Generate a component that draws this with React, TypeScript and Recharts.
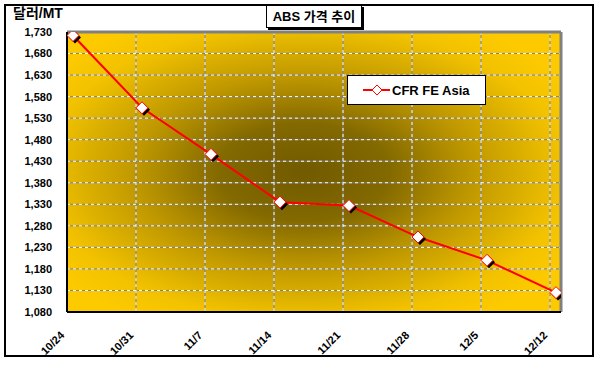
import { LineChart, Line, XAxis, YAxis, CartesianGrid, ReferenceLine } from "recharts"

const chartTitle = "ABS 가격 추이"
const unitLabel = "달러/MT"
const seriesName = "CFR FE Asia"

const weeks = ["10/24", "10/31", "11/7", "11/14", "11/21", "11/28", "12/5", "12/12"]
const cfrFeAsia = [1722, 1554, 1446, 1335, 1327, 1254, 1200, 1125]
const priceTicks = [1080, 1130, 1180, 1230, 1280, 1330, 1380, 1430, 1480, 1530, 1580, 1630, 1680, 1730]

// category lines sit a little left of each point, like the Excel original
const SHIFT = 0.087
const X_MAX = 7.072

const data = weeks.map((w, i) => ({ idx: i, week: w, price: cfrFeAsia[i] }))
const weekTicks = weeks.map((_, i) => i - SHIFT)

const FONT = "'Liberation Sans', Arial, 'Noto Sans CJK KR', sans-serif"

function DiamondDot(props: any) {
  const { cx, cy, index } = props
  if (cx == null || cy == null) return null
  const r = 6
  const pts = (dx: number, dy: number) =>
    `${cx + dx},${cy - r + dy} ${cx + r + dx},${cy + dy} ${cx + dx},${cy + r + dy} ${cx - r + dx},${cy + dy}`
  return (
    <g key={`dot-${index}`}>
      <polygon points={pts(2, 2)} fill="#000" />
      <polygon points={pts(0, 0)} fill="#fff" stroke="#ff0000" strokeWidth={1} />
    </g>
  )
}

function WeekTick(props: any) {
  const { x, y, payload } = props
  const label = weeks[Math.round(payload.value + SHIFT)]
  const ax = x - 2
  const ay = y + 16
  return (
    <text
      x={ax}
      y={ay}
      transform={`rotate(-45, ${ax}, ${ay})`}
      textAnchor="end"
      fontSize={11}
      fontWeight="bold"
      fontFamily={FONT}
      fill="#000"
    >
      {label}
    </text>
  )
}

export default function App() {
  return (
    <div style={{ position: "absolute", left: 0, top: 0, width: 600, height: 366, background: "#fff", fontFamily: FONT }}>
      <svg width={0} height={0} style={{ position: "absolute" }}>
        <defs>
          <radialGradient id="plotBg" cx="0.48" cy="0.5" r="0.62" fx="0.48" fy="0.5">
            <stop offset="0%" stopColor="#715a00" />
            <stop offset="28%" stopColor="#836900" />
            <stop offset="55%" stopColor="#bf9800" />
            <stop offset="85%" stopColor="#f2c200" />
            <stop offset="100%" stopColor="#fdca00" />
          </radialGradient>
        </defs>
      </svg>

      <div
        style={{
          position: "absolute",
          left: 4,
          top: 4,
          width: 590,
          height: 353,
          border: "2px solid #000",
          boxSizing: "border-box",
        }}
      />

      <LineChart
        width={600}
        height={366}
        data={data}
        margin={{ top: 32, right: 39, bottom: 0, left: 0 }}
        style={{ position: "absolute", left: 0, top: 0 }}
      >
        <CartesianGrid stroke="#808080" fill="url(#plotBg)" fillOpacity={1} />
        <CartesianGrid stroke="#ffffff" strokeDasharray="3 3" />
        <XAxis
          type="number"
          dataKey="idx"
          domain={[-SHIFT, X_MAX]}
          ticks={weekTicks}
          interval={0}
          allowDataOverflow
          height={54}
          tickLine={false}
          axisLine={{ stroke: "#000", strokeWidth: 2 }}
          tick={<WeekTick />}
        />
        <YAxis
          type="number"
          domain={[1080, 1730]}
          ticks={priceTicks}
          interval={0}
          allowDataOverflow
          width={67}
          tickSize={0}
          tickMargin={15}
          axisLine={{ stroke: "#000", strokeWidth: 2 }}
          tickFormatter={(v: number) => v.toLocaleString("en-US")}
          tick={{ fontSize: 11, fontWeight: "bold", fontFamily: FONT, fill: "#000" }}
        />
        <ReferenceLine y={1730} stroke="#808080" strokeWidth={3} />
        <ReferenceLine x={X_MAX} stroke="#808080" strokeWidth={3} />
        <Line
          type="linear"
          dataKey="price"
          name={seriesName}
          stroke="#ff0000"
          strokeWidth={2}
          dot={<DiamondDot />}
          activeDot={false}
          isAnimationActive={false}
        />
      </LineChart>

      <div
        style={{
          position: "absolute",
          left: 13,
          top: 5,
          fontSize: 14,
          lineHeight: "17px",
          fontWeight: "bold",
          color: "#000",
          whiteSpace: "nowrap",
        }}
      >
        {unitLabel}
      </div>

      <div
        style={{
          position: "absolute",
          left: 266,
          top: 5,
          width: 96,
          height: 23,
          border: "1px solid #000",
          boxShadow: "2px 2px 0 #000",
          background: "#fff",
          boxSizing: "border-box",
          fontSize: 13,
          fontWeight: "bold",
          lineHeight: "21px",
          textAlign: "center",
          whiteSpace: "nowrap",
        }}
      >
        {chartTitle}
      </div>

      <div
        style={{
          position: "absolute",
          left: 347,
          top: 75,
          width: 139,
          height: 30,
          border: "1px solid #000",
          background: "#fff",
          boxSizing: "border-box",
          display: "flex",
          alignItems: "center",
        }}
      >
        <svg width={44} height={28} style={{ display: "block" }}>
          <line x1={15} y1={14} x2={42} y2={14} stroke="#ff0000" strokeWidth={2} />
          <polygon points="29,9 34,14 29,19 24,14" fill="#fff" stroke="#ff0000" strokeWidth={1} />
        </svg>
        <span style={{ fontSize: 13, fontWeight: "bold", whiteSpace: "nowrap" }}>{seriesName}</span>
      </div>
    </div>
  )
}
